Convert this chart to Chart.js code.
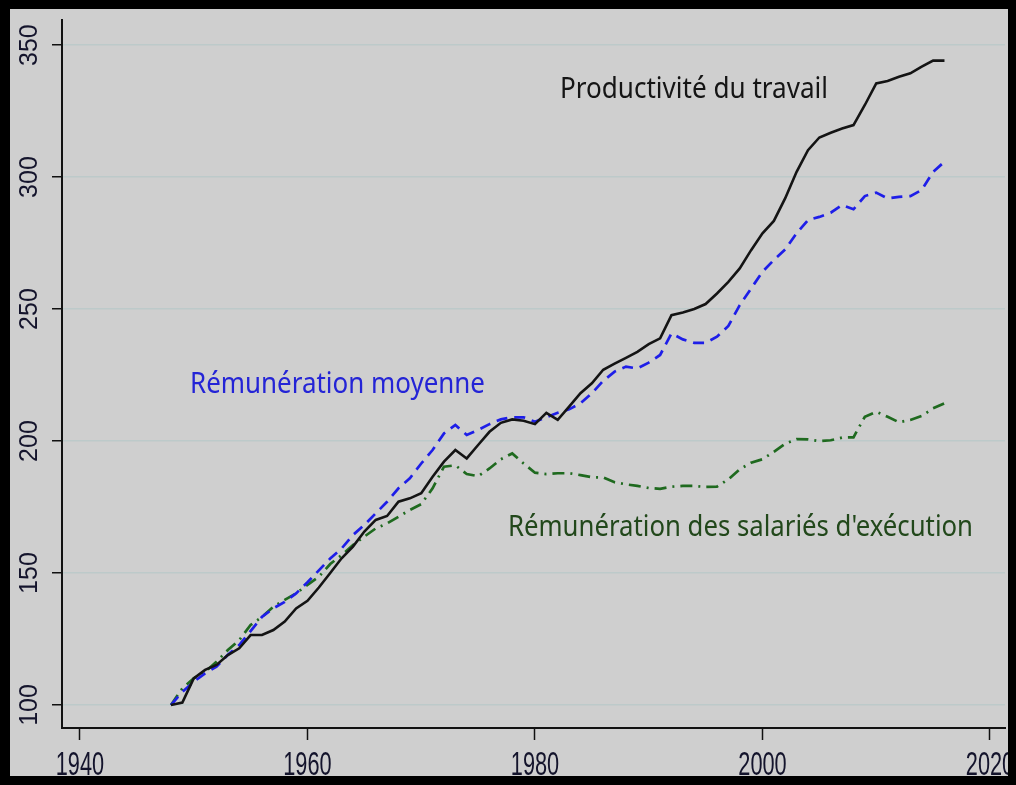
<!DOCTYPE html>
<html>
<head>
<meta charset="utf-8">
<script src="https://cdn.jsdelivr.net/npm/chart.js@4/dist/chart.umd.min.js"></script>
<style>
  html, body { margin: 0; padding: 0; background: #000; }
  body { width: 1016px; height: 785px; position: relative; overflow: hidden; }
  #wrap { position: absolute; left: 10px; top: 9px; width: 998px; height: 767px; background: #cfcfcf; }
  canvas { display: block; }
</style>
</head>
<body>
<div id="wrap"><canvas id="c" width="998" height="767"></canvas></div>
<script>
// years 1948..2016
const years = [];
for (let y = 1948; y <= 2016; y++) years.push(y);

const productivite = [
  100, 100.9, 110.1, 113.3, 115.2, 118.9, 121.5, 126.5, 126.5, 128.4,
  131.6, 136.6, 139.5, 144.5, 150, 155.6, 160, 165.7, 170.1, 171.6,
  177, 178.3, 180.2, 186.5, 192.2, 196.6, 193.4, 198.5, 203.5, 206.9,
  208.2, 207.7, 206.4, 210.7, 208, 213, 218.1, 221.9, 227, 229.3,
  231.5, 233.8, 236.7, 238.9, 247.7, 248.7, 250, 251.9, 255.9, 260.3,
  265.4, 272.3, 278.7, 283.4, 292, 302, 310.2, 315, 316.8, 318.4,
  319.7, 327.3, 335.5, 336.4, 338, 339.3, 341.8, 344.1, 344.1
];

const remMoyenne = [
  100, 105, 108.8, 112, 114.5, 119, 122.7, 128, 133.4, 136.6,
  139.1, 142.3, 146.5, 151, 155.5, 159.3, 164.4, 168.2, 172.6, 177,
  182.1, 185.9, 191.5, 196.6, 202.9, 206.1, 202.3, 204.2, 206.4, 208.2,
  209, 209, 207.3, 209, 210.7, 212, 214.3, 218.1, 222.8, 226.3,
  228.2, 227.5, 229.7, 232.6, 240.8, 238.5, 237.2, 237.2, 239.5, 243.6,
  251.5, 257.8, 264.1, 268.6, 272.6, 278.7, 283.7, 284.9, 286.5, 289.4,
  287.8, 292.8, 294.1, 291.9, 292.5, 292.8, 295.1, 302, 305.8
];

const remExecution = [
  100, 106.3, 110.1, 112.6, 116.4, 120.8, 124.6, 130.3, 133.4, 137.2,
  139.8, 142.3, 145.5, 148.6, 153.4, 156.8, 160.6, 163.8, 166.9, 168.8,
  171.3, 173.9, 176.1, 182.1, 190.3, 190.8, 187.5, 186.7, 189.6, 193.1,
  195.3, 191.5, 188, 187.5, 187.8, 187.8, 187.1, 186.3, 186.2, 184.4,
  183.6, 183, 182.2, 181.9, 182.7, 183, 183, 182.6, 182.7, 185.5,
  189.3, 191.8, 193.1, 195.9, 199, 200.7, 200.6, 200, 200.3, 201.3,
  201.4, 209.2, 211.1, 209.2, 207.1, 208, 209.5, 212.4, 214.3
];

const xTicks = [1940, 1960, 1980, 2000, 2020];
const yTicks = [100, 150, 200, 250, 300, 350];

const toPoints = vals => years.map((yr, i) => ({ x: yr, y: vals[i] }));

const labelsPlugin = {
  id: 'labels',
  afterDraw(chart) {
    const ctx = chart.ctx;
    const xs = chart.scales.x, ys = chart.scales.y;
    ctx.save();
    // y tick labels, rotated
    ctx.fillStyle = '#14142c';
    ctx.font = '25px "Liberation Sans", Arial, sans-serif';
    ctx.textAlign = 'center';
    ctx.textBaseline = 'middle';
    yTicks.forEach(v => {
      ctx.save();
      ctx.translate(20, ys.getPixelForValue(v));
      ctx.rotate(-Math.PI / 2);
      ctx.fillText(String(v), 0, 0);
      ctx.restore();
    });
    // x tick labels (narrow face)
    ctx.font = '34px "Liberation Sans", Arial, sans-serif';
    ctx.textBaseline = 'alphabetic';
    xTicks.forEach(v => {
      ctx.save();
      ctx.translate(xs.getPixelForValue(v), 766);
      ctx.scale(0.64, 1);
      ctx.fillText(String(v), 0, 0);
      ctx.restore();
    });
    // series annotations
    ctx.textAlign = 'left';
    ctx.textBaseline = 'middle';
    ctx.font = '29px "Noto Sans", "Open Sans", sans-serif';
    ctx.fillStyle = '#151515';
    ctx.fillText('Productivité du travail', 550, 81, 268);
    ctx.fillStyle = '#2424d6';
    ctx.fillText('Rémunération moyenne', 180, 376, 295);
    ctx.fillStyle = '#22481b';
    ctx.fillText("Rémunération des salariés d'exécution", 498, 519, 465);
    ctx.restore();
  }
};

new Chart(document.getElementById('c'), {
  type: 'line',
  data: {
    datasets: [
      { label: 'Productivité du travail', data: toPoints(productivite), borderColor: '#141414', borderWidth: 2.6, pointRadius: 0, tension: 0 },
      { label: 'Rémunération moyenne', data: toPoints(remMoyenne), borderColor: '#1e1ee8', borderWidth: 2.7, borderDash: [11, 7], pointRadius: 0, tension: 0 },
      { label: "Rémunération des salariés d'exécution", data: toPoints(remExecution), borderColor: '#1f6a1f', borderWidth: 2.7, borderDash: [12, 6, 2, 6], pointRadius: 0, tension: 0 }
    ]
  },
  options: {
    responsive: false,
    animation: false,
    layout: { padding: { top: 11, right: 3, left: 0, bottom: 0 } },
    plugins: { legend: { display: false }, tooltip: { enabled: false } },
    scales: {
      x: {
        type: 'linear',
        min: 1938.42,
        max: 2021.32,
        afterBuildTicks: s => { s.ticks = xTicks.map(v => ({ value: v })); },
        afterFit: s => { s.height = 48; },
        ticks: { display: false },
        grid: { drawOnChartArea: false, drawTicks: true, tickLength: 12, tickColor: '#111', tickWidth: 1.5 },
        border: { display: true, color: '#111', width: 2 }
      },
      y: {
        min: 91.29,
        max: 359.5,
        afterBuildTicks: s => { s.ticks = yTicks.map(v => ({ value: v })); },
        afterFit: s => { s.width = 52; },
        ticks: { display: false },
        grid: { color: '#bdcaca', lineWidth: 1.5, drawTicks: true, tickLength: 10, tickColor: '#111', tickWidth: 1.5 },
        border: { display: true, color: '#111', width: 2 }
      }
    }
  },
  plugins: [labelsPlugin]
});
</script>
</body>
</html>
